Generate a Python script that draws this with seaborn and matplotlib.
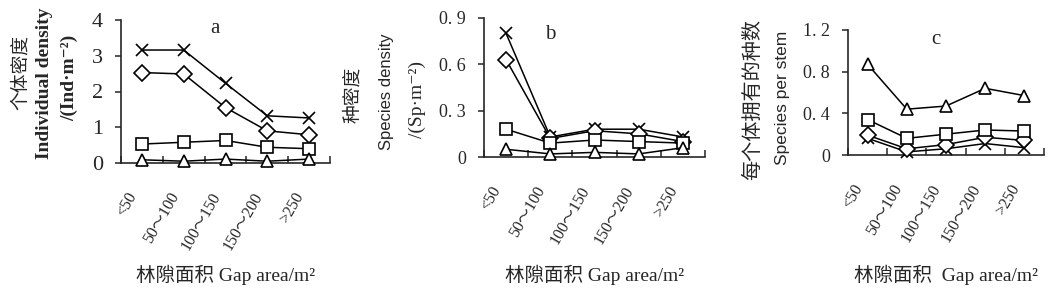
import numpy as np
import pandas as pd
import matplotlib
matplotlib.use('Agg')
import matplotlib.pyplot as plt
import matplotlib.transforms as mtrans
import seaborn as sns

sns.set_style('ticks')
plt.rcParams['font.family'] = ['Liberation Serif', 'Noto Sans CJK SC', 'DejaVu Serif']
plt.rcParams['axes.linewidth'] = 1.2

# ----------------------- data

cats = ['<50', '50～100', '100～150', '150～200', '>250']

a_x = [3.16, 3.16, 2.23, 1.32, 1.26]
a_d = [2.53, 2.49, 1.55, 0.90, 0.79]
a_s = [0.53, 0.58, 0.63, 0.44, 0.40]
a_t = [0.09, 0.05, 0.11, 0.05, 0.11]

b_x = [0.80, 0.13, 0.18, 0.18, 0.13]
b_d = [0.63, 0.12, 0.17, 0.15, 0.10]
b_s = [0.18, 0.09, 0.11, 0.10, 0.09]
b_t = [0.05, 0.02, 0.03, 0.02, 0.06]

c_x = [0.16, 0.03, 0.06, 0.11, 0.07]
c_d = [0.19, 0.06, 0.10, 0.17, 0.14]
c_s = [0.34, 0.16, 0.20, 0.24, 0.23]
c_t = [0.87, 0.44, 0.47, 0.64, 0.57]

a_ticks = [0, 1, 2, 3, 4]
a_ticklabels = ['0', '1', '2', '3', '4']
b_ticks = [0, 0.3, 0.6, 0.9]
b_ticklabels = ['0', '0. 3', '0. 6', '0. 9']
c_ticks = [0, 0.4, 0.8, 1.2]
c_ticklabels = ['0', '0. 4', '0. 8', '1. 2']

# ----------------------- layout (pixels of a 1054x297 canvas)

W, H = 1054, 297
fig = plt.figure(figsize=(W / 100, H / 100), dpi=100)

def px_axes(left, right, top, bottom):
	return fig.add_axes([left / W, (H - bottom) / H, (right - left) / W, (bottom - top) / H])

def draw(ax, series, ylim, yticks, yticklabels, yfs, letter, lpos, xlabel):
	for mk, vals in series.items():
		df = pd.DataFrame({'pos': range(len(vals)), 'val': vals})
		sns.lineplot(data=df, x='pos', y='val', marker=mk, color='black',
			lw=1.1, ms=8.5, mfc='white', mec='black', mew=1.2, legend=False,
			sort=False, ax=ax, clip_on=False, zorder=3)
	ax.set_xlim(-0.5, 4.5)
	ax.set_ylim(*ylim)
	ax.set_yticks(yticks, yticklabels, fontsize=yfs)
	ax.tick_params(axis='y', direction='out', length=4, width=1.1, pad=9)
	ax.set_xticks(range(len(cats)), cats, fontsize=11.5, rotation=60,
		ha='right', va='center', rotation_mode='anchor')
	ax.set_xticks(np.arange(-0.5, 5, 1), minor=True)
	ax.tick_params(axis='x', which='major', length=0, pad=22)
	ax.tick_params(axis='x', which='minor', direction='in', length=5, width=1.1)
	off = mtrans.ScaledTranslation(-6 / 72, 0, fig.dpi_scale_trans)
	for lbl in ax.get_xticklabels():
		lbl.set_transform(lbl.get_transform() + off)
	ax.set_ylabel('')
	ax.set_xlabel(xlabel, fontsize=14, va='center')
	ax.text(lpos[0], lpos[1], letter, transform=ax.transAxes, fontsize=15,
		ha='center', va='center')
	sns.despine(ax=ax)

ax_a = px_axes(121, 330, 20, 163)
ax_b = px_axes(484, 705, 18, 157)
ax_c = px_axes(848, 1044, 30, 155)

draw(ax_a, {'x': a_x, 'D': a_d, 's': a_s, '^': a_t}, (0, 4), a_ticks, a_ticklabels,
	16, 'a', (0.45, 0.94), '林隙面积 Gap area/m²')
draw(ax_b, {'x': b_x, 'D': b_d, 's': b_s, '^': b_t}, (0, 0.9), b_ticks, b_ticklabels,
	13, 'b', (0.30, 0.88), '林隙面积 Gap area/m²')
draw(ax_c, {'x': c_x, 'D': c_d, 's': c_s, '^': c_t}, (0, 1.2), c_ticks, c_ticklabels,
	13, 'c', (0.45, 0.92), '林隙面积  Gap area/m²')

for ax, bottom, height in [(ax_a, 163, 143), (ax_b, 157, 139), (ax_c, 155, 125)]:
	ax.xaxis.set_label_coords(0.5, (bottom - 275) / height)

# ----------------------- y labels

def ylab(x, y, s, **kw):
	fig.text(x / W, (H - y) / H, s, rotation=90, ha='center', va='center', **kw)

cjk = ['Noto Sans CJK SC', 'DejaVu Sans']
ylab(20, 72, '个体密度', family=cjk, fontsize=13.5)
ylab(45, 83, 'Individual density', fontsize=14, weight='bold')
ylab(70, 78, '/(Ind·m⁻²)', fontsize=14, weight='bold')

ylab(353, 95, '种密度', family=cjk, fontsize=13.5)
ylab(387, 92, 'Species density', family=['Liberation Sans', 'DejaVu Sans'], fontsize=12)
ylab(417, 99, '/(Sp·m⁻²)', fontsize=14)

ylab(753, 100, '每个体拥有的种数', family=cjk, fontsize=14.5)
ylab(783, 98, 'Species per stem', family=['Liberation Sans', 'DejaVu Sans'], fontsize=12.5)

plt.savefig('out.png', dpi=100)
